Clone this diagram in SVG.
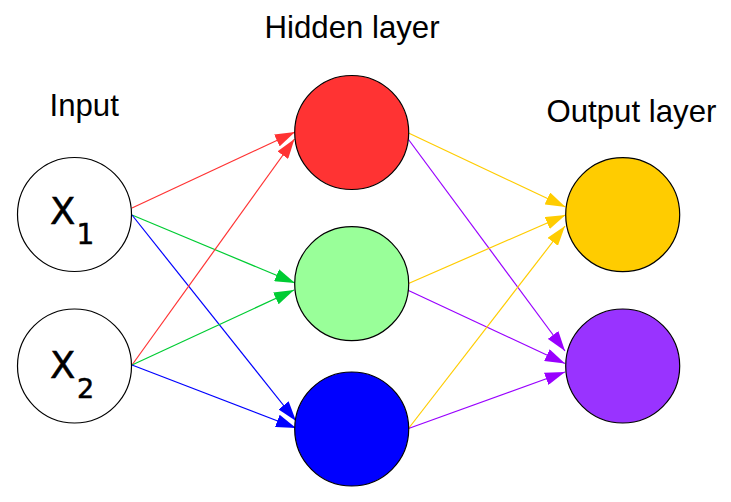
<svg xmlns="http://www.w3.org/2000/svg" width="731" height="502" viewBox="0 0 731 502">
  <style>
    .node { stroke: #000; stroke-width: 1.2; }
    .lbl { font-family: "Liberation Sans", Arial, sans-serif; fill: #000; }
    .var { font-family: "DejaVu Sans", sans-serif; fill: #000; stroke: #000; stroke-width: 0.5; }
    .title { font-size: 31.2px; }
    .edge { fill: none; stroke-width: 1.2; }
    .r { stroke: #ff3333; }
    .g { stroke: #00cc33; }
    .b { stroke: #0000ff; }
    .y { stroke: #ffcc00; }
    .p { stroke: #9900ff; }
  </style>
  <defs>
    <marker id="ah-r" markerUnits="userSpaceOnUse" markerWidth="20" markerHeight="13" refX="20" refY="6.5" orient="auto">
      <path d="M0,0 L20,6.5 L0,13 z" fill="#ff3333"/>
    </marker>
    <marker id="ah-g" markerUnits="userSpaceOnUse" markerWidth="20" markerHeight="13" refX="20" refY="6.5" orient="auto">
      <path d="M0,0 L20,6.5 L0,13 z" fill="#00cc33"/>
    </marker>
    <marker id="ah-b" markerUnits="userSpaceOnUse" markerWidth="20" markerHeight="13" refX="20" refY="6.5" orient="auto">
      <path d="M0,0 L20,6.5 L0,13 z" fill="#0000ff"/>
    </marker>
    <marker id="ah-y" markerUnits="userSpaceOnUse" markerWidth="20" markerHeight="13" refX="20" refY="6.5" orient="auto">
      <path d="M0,0 L20,6.5 L0,13 z" fill="#ffcc00"/>
    </marker>
    <marker id="ah-p" markerUnits="userSpaceOnUse" markerWidth="20" markerHeight="13" refX="20" refY="6.5" orient="auto">
      <path d="M0,0 L20,6.5 L0,13 z" fill="#9900ff"/>
    </marker>
  </defs>

  <rect width="731" height="502" fill="#fff"/>

  <!-- layer titles -->
  <text class="lbl title" x="49.5" y="116">Input</text>
  <text class="lbl title" x="264.5" y="38">Hidden layer</text>
  <text class="lbl title" x="546.5" y="122">Output layer</text>

  <!-- connectors -->
  <g id="connectors">
    <line class="edge r" x1="132" y1="208" x2="295" y2="132" marker-end="url(#ah-r)"/>
    <line class="edge g" x1="132" y1="215" x2="295" y2="283" marker-end="url(#ah-g)"/>
    <line class="edge b" x1="132" y1="215" x2="296" y2="421" marker-end="url(#ah-b)"/>
    <line class="edge r" x1="132" y1="365" x2="294.5" y2="139" marker-end="url(#ah-r)"/>
    <line class="edge g" x1="132" y1="365" x2="294" y2="290" marker-end="url(#ah-g)"/>
    <line class="edge b" x1="132" y1="365" x2="296" y2="428" marker-end="url(#ah-b)"/>
    <line class="edge y" x1="408.5" y1="133" x2="565.5" y2="207" marker-end="url(#ah-y)"/>
    <line class="edge p" x1="408.5" y1="139.5" x2="565" y2="351" marker-end="url(#ah-p)"/>
    <line class="edge y" x1="408.5" y1="283.5" x2="565.5" y2="215" marker-end="url(#ah-y)"/>
    <line class="edge p" x1="408.5" y1="290.5" x2="565" y2="363.5" marker-end="url(#ah-p)"/>
    <line class="edge y" x1="408.5" y1="428.5" x2="565" y2="226" marker-end="url(#ah-y)"/>
    <line class="edge p" x1="408.5" y1="428.5" x2="565" y2="372" marker-end="url(#ah-p)"/>
  </g>

  <!-- input layer -->
  <g id="x1">
    <circle class="node" cx="74.5" cy="214.5" r="57" fill="#fff"/>
    <text class="var" x="50" y="223.5" font-size="37">X</text>
    <text class="var" x="76.5" y="244.3" font-size="28">1</text>
  </g>
  <g id="x2">
    <circle class="node" cx="74.5" cy="366" r="57" fill="#fff"/>
    <text class="var" x="50" y="378.3" font-size="37">X</text>
    <text class="var" x="77" y="398.3" font-size="27">2</text>
  </g>

  <!-- hidden layer -->
  <g id="h1"><circle class="node" cx="351.7" cy="132.5" r="57" fill="#ff3333"/></g>
  <g id="h2"><circle class="node" cx="351.7" cy="283.7" r="57" fill="#99ff99"/></g>
  <g id="h3"><circle class="node" cx="351.7" cy="429" r="57" fill="#0000ff"/></g>

  <!-- output layer -->
  <g id="o1"><circle class="node" cx="622.7" cy="214.7" r="57" fill="#ffcc00"/></g>
  <g id="o2"><circle class="node" cx="622.7" cy="366" r="57" fill="#9933ff"/></g>
</svg>
